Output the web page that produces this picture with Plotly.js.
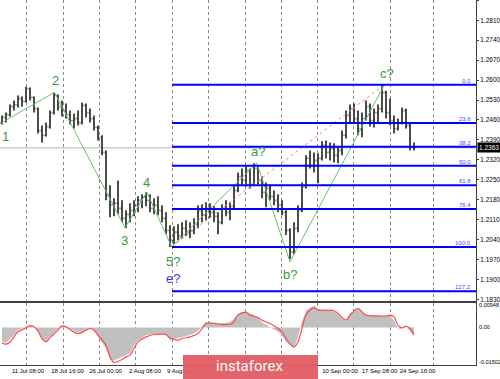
<!DOCTYPE html>
<html><head><meta charset="utf-8">
<script src="https://cdn.plot.ly/plotly-3.0.1.min.js"></script>
<style>html,body{margin:0;padding:0;background:#fff;}#chart{width:500px;height:379px;}</style>
</head><body><div id="chart"></div>
<script>
// ---- price bars (H4 chart, one bar per ~4 px column) ----
const barX = Array.from({length:104}, (_, i) => i);
const openP = [1.2451,1.2469,1.2479,1.2507,1.2514,1.2535,1.2525,1.2570,1.2539,1.2500,
1.2423,1.2406,1.2437,1.2486,1.2546,1.2507,1.2493,1.2479,1.2458,1.2465,
1.2451,1.2511,1.2486,1.2465,1.2434,1.2399,1.2346,1.2196,1.2161,1.2168,
1.2150,1.2115,1.2129,1.2143,1.2161,1.2178,1.2189,1.2178,1.2150,1.2161,
1.2143,1.2115,1.2073,1.2038,1.2066,1.2052,1.2080,1.2066,1.2073,1.2094,
1.2143,1.2126,1.2150,1.2136,1.2122,1.2101,1.2150,1.2136,1.2157,1.2213,
1.2262,1.2248,1.2283,1.2234,1.2290,1.2248,1.2206,1.2220,1.2192,1.2178,
1.2161,1.2136,1.2073,1.1996,1.2080,1.2143,1.2227,1.2325,1.2301,1.2318,
1.2325,1.2371,1.2346,1.2360,1.2336,1.2353,1.2406,1.2476,1.2500,1.2465,
1.2430,1.2465,1.2507,1.2458,1.2486,1.2500,1.2556,1.2486,1.2458,1.2430,
1.2451,1.2493,1.2441,1.2364];
const highP = [1.2476,1.2486,1.2514,1.2528,1.2546,1.2542,1.2577,1.2574,1.2542,1.2504,
1.2441,1.2451,1.2493,1.2556,1.2549,1.2528,1.2518,1.2493,1.2483,1.2493,
1.2521,1.2518,1.2500,1.2476,1.2441,1.2406,1.2353,1.2231,1.2185,1.2248,
1.2178,1.2143,1.2168,1.2178,1.2192,1.2199,1.2206,1.2199,1.2185,1.2192,
1.2161,1.2136,1.2091,1.2087,1.2094,1.2101,1.2108,1.2101,1.2115,1.2161,
1.2164,1.2171,1.2168,1.2157,1.2136,1.2164,1.2178,1.2171,1.2231,1.2276,
1.2290,1.2297,1.2290,1.2308,1.2297,1.2262,1.2241,1.2234,1.2213,1.2199,
1.2178,1.2143,1.2080,1.2101,1.2161,1.2241,1.2336,1.2353,1.2346,1.2343,
1.2385,1.2388,1.2381,1.2378,1.2364,1.2423,1.2493,1.2514,1.2518,1.2493,
1.2486,1.2528,1.2518,1.2500,1.2514,1.2584,1.2563,1.2535,1.2476,1.2465,
1.2504,1.2500,1.2451,1.2381];
const lowP = [1.2444,1.2451,1.2472,1.2493,1.2504,1.2507,1.2521,1.2528,1.2486,1.2413,
1.2381,1.2402,1.2430,1.2479,1.2493,1.2472,1.2465,1.2444,1.2430,1.2441,
1.2444,1.2469,1.2451,1.2423,1.2388,1.2336,1.2178,1.2119,1.2122,1.2129,
1.2101,1.2080,1.2101,1.2122,1.2136,1.2150,1.2157,1.2136,1.2129,1.2126,
1.2101,1.2059,1.2014,1.2024,1.2038,1.2045,1.2052,1.2045,1.2059,1.2080,
1.2101,1.2108,1.2115,1.2101,1.2059,1.2094,1.2122,1.2108,1.2150,1.2206,
1.2234,1.2227,1.2220,1.2231,1.2234,1.2185,1.2154,1.2178,1.2161,1.2136,
1.2126,1.2056,1.1972,1.1989,1.2066,1.2136,1.2220,1.2290,1.2276,1.2238,
1.2318,1.2325,1.2318,1.2311,1.2308,1.2336,1.2395,1.2451,1.2451,1.2406,
1.2399,1.2458,1.2437,1.2434,1.2451,1.2486,1.2465,1.2441,1.2413,1.2423,
1.2444,1.2430,1.2353,1.2353];
const closeP = [1.2469,1.2479,1.2507,1.2514,1.2535,1.2525,1.2570,1.2539,1.2500,1.2423,
1.2406,1.2437,1.2486,1.2546,1.2507,1.2493,1.2479,1.2458,1.2465,1.2451,
1.2511,1.2486,1.2465,1.2434,1.2399,1.2346,1.2196,1.2161,1.2168,1.2150,
1.2115,1.2129,1.2143,1.2161,1.2178,1.2189,1.2178,1.2150,1.2161,1.2143,
1.2115,1.2073,1.2038,1.2066,1.2052,1.2080,1.2066,1.2073,1.2094,1.2143,
1.2126,1.2150,1.2136,1.2122,1.2101,1.2150,1.2136,1.2157,1.2213,1.2262,
1.2248,1.2283,1.2234,1.2290,1.2248,1.2206,1.2220,1.2192,1.2178,1.2161,
1.2136,1.2073,1.1996,1.2080,1.2143,1.2227,1.2325,1.2301,1.2318,1.2325,
1.2371,1.2346,1.2360,1.2336,1.2353,1.2406,1.2476,1.2500,1.2465,1.2430,
1.2465,1.2507,1.2458,1.2486,1.2500,1.2556,1.2486,1.2458,1.2430,1.2451,
1.2493,1.2441,1.2364,1.2363];
const lastPrice = 1.2363;

// ---- Elliott wave marks ----
const waveNames = ['1','2','3','4','5?','a?','b?','c?'];
const waveX = [-0.5, 13.1, 30.75, 36.2, 42.4, 63.7, 72, 95.6];
const waveP = [1.2447, 1.2557, 1.2082, 1.2207, 1.2015, 1.2309, 1.1962, 1.2584];
const labelX = [-0.5, 13.4, 30.5, 36.1, 42.75, 64.1, 72, 96.3];
const labelP = [1.2402, 1.2598, 1.2038, 1.2239, 1.1964, 1.2350, 1.1919, 1.2622];
const altLabel = {text:'e?', x:42.75, p:1.1903};
const trendX = [42.4, 95.6];
const trendP = [1.2015, 1.2584];

// ---- Fibonacci retracement ----
const fibNames = ['0.0','23.6','38.2','50.0','61.8','76.4','100.0','127.2'];
const fibPrices = [1.2584, 1.2449, 1.2366, 1.2299, 1.2231, 1.2148, 1.2014, 1.1859];
const fibStartX = 42.5;

// ---- axes ----
const priceTicks = [1.2880,1.2810,1.2740,1.2670,1.2600,1.2530,1.2460,1.2390,1.2320,1.2250,1.2180,1.2110,1.2040,1.1970,1.1900,1.1830];
const gridX = [6, 15.25, 24.25, 33.25, 42.5, 51.5, 60.75, 69.75, 78.75, 87.75, 97, 107.75];
const dateX = [6.5, 16.375, 25.875, 35.75, 45.25, 84.5, 94.375, 103.875];
const dateLabels = ['11 Jul 08:00','18 Jul 16:00','26 Jul 00:00','2 Aug 08:00','9 Aug 16:00','10 Sep 00:00','17 Sep 08:00','24 Sep 16:00'];
const xRange = [-0.5, 118.5];

// ---- oscillator (MACD histogram + signal) ----
const oscX = [0,1,2,3,4,6,7,8,9,10, 11,12,14,15,16,17,19,21,22,23, 24,26,27,28,30,31,32,33,34,36,
38,40,41,42,44,45,47,49,50,51, 53,55,57,58,59,61,62,64,65,67, 69,70,71,73,74,75,76,78,79,81,
83,84,86,87,89,90,91,93,94,96, 97,98,99,100,101,102,103];
const macdHist = [-0.00578,-0.00654,-0.00491,-0.00327,-0.00109,0.00044,0.00098,0.00033,-0.00196,-0.00491,
-0.00600,-0.00382,-0.00055,0.00098,0.00055,-0.00065,-0.00218,-0.00065,-0.00022,-0.00131,
-0.00403,-0.00905,-0.01352,-0.01417,-0.01264,-0.01199,-0.01112,-0.00763,-0.00545,-0.00327,
-0.00283,-0.00283,-0.00327,-0.00545,-0.00469,-0.00403,-0.00327,-0.00164,0.00055,0.00240,
0.00218,0.00174,0.00240,0.00382,0.00600,0.00709,0.00600,0.00436,0.00218,0.00033,
-0.00185,-0.00327,-0.00621,-0.00894,-0.00403,0.00240,0.00730,0.00948,0.00785,0.00752,
0.00687,0.00545,0.00240,0.00600,0.00828,0.00676,0.00501,0.00501,0.00501,0.00458,
0.00501,0.00316,-0.00044,-0.00044,0.00044,-0.00153,-0.00403];
const macdSignal = [-0.00661,-0.00719,-0.00621,-0.00403,-0.00185,-0.00014,0.00086,0.00028,-0.00158,-0.00474,
-0.00617,-0.00445,-0.00114,0.00072,0.00028,-0.00086,-0.00258,-0.00114,-0.00044,-0.00114,
-0.00330,-0.00761,-0.01264,-0.01502,-0.01373,-0.01264,-0.01188,-0.00905,-0.00617,-0.00402,
-0.00302,-0.00287,-0.00302,-0.00445,-0.00545,-0.00474,-0.00402,-0.00258,-0.00044,0.00172,
0.00172,0.00130,0.00130,0.00244,0.00531,0.00646,0.00531,0.00431,0.00316,0.00172,
-0.00044,-0.00186,-0.00474,-0.00833,-0.00617,-0.00044,0.00531,0.00847,0.00747,0.00747,
0.00718,0.00603,0.00316,0.00531,0.00818,0.00675,0.00531,0.00502,0.00502,0.00488,
0.00531,0.00459,0.00100,-0.00014,0.00058,-0.00044,-0.00302];

const FONT = 'Liberation Sans, Arial, sans-serif';
const traces = [
  {type:'ohlc', x:barX, open:openP, high:highP, low:lowP, close:closeP,
   xaxis:'x', yaxis:'y', tickwidth:0.35,
   increasing:{line:{color:'#3a3a3a', width:1.8}}, decreasing:{line:{color:'#3a3a3a', width:1.8}},
   hoverinfo:'skip'},
  {type:'scatter', mode:'lines', x:trendX, y:trendP, xaxis:'x', yaxis:'y',
   line:{color:'#ff8080', width:1, dash:'dot'}, hoverinfo:'skip'},
  {type:'scatter', mode:'lines', x:waveX, y:waveP, xaxis:'x', yaxis:'y',
   line:{color:'#6cc06c', width:1}, hoverinfo:'skip'}
];
fibPrices.forEach(p => traces.push({type:'scatter', mode:'lines', x:[fibStartX, xRange[1]], y:[p,p],
  xaxis:'x', yaxis:'y', line:{color:'#0000ff', width:2}, hoverinfo:'skip'}));
traces.push({type:'scatter', mode:'lines', x:oscX, y:macdHist, xaxis:'x2', yaxis:'y2',
  fill:'tozeroy', fillcolor:'#c0c0c0', line:{width:0, color:'#c0c0c0'}, hoverinfo:'skip'});
traces.push({type:'scatter', mode:'lines', x:oscX, y:macdSignal, xaxis:'x3', yaxis:'y2',
  line:{color:'#ff4a4a', width:1.2, shape:'spline'}, hoverinfo:'skip'});

const annotations = [];
waveNames.forEach((t,i) => annotations.push({xref:'x', yref:'y', x:labelX[i], y:labelP[i], text:t,
  showarrow:false, xanchor: i===0 ? 'left':'center', yanchor:'middle',
  font:{family:FONT, size:13, color:'#3a9a3a'}}));
annotations.push({xref:'x', yref:'y', x:altLabel.x, y:altLabel.p, text:altLabel.text, showarrow:false,
  xanchor:'center', yanchor:'middle', font:{family:FONT, size:13, color:'#3a3ae6'}});
fibNames.forEach((t,i) => annotations.push({xref:'paper', yref:'y', x:0.992, y:fibPrices[i], text:t,
  showarrow:false, xanchor:'right', yanchor:'bottom', borderpad:0,
  font:{family:FONT, size:6, color:'#4848ff'}}));
annotations.push({xref:'paper', yref:'y', x:1, y:lastPrice, text:lastPrice.toFixed(4), showarrow:false,
  xanchor:'left', yanchor:'middle', bgcolor:'#000', borderpad:1, xshift:1,
  font:{family:FONT, size:6.5, color:'#fff'}});
annotations.push({xref:'paper', yref:'paper', x:0.525, y:-0.004, text:'instaforex', showarrow:false,
  xanchor:'center', yanchor:'middle', font:{family:'Roboto, sans-serif', size:15, color:'#fff'}});

const gridStyle = {showgrid:true, gridcolor:'#8a8a8a', griddash:'dot', gridwidth:1};
const layout = {
  width:500, height:379,
  margin:{l:0, r:24, t:0, b:14, pad:0},
  paper_bgcolor:'#fff', plot_bgcolor:'#fff',
  showlegend:false,
  font:{family:FONT, size:6.5, color:'#000'},
  xaxis:Object.assign({domain:[0,1], anchor:'y', range:xRange, tickvals:gridX, showticklabels:false, ticks:'',
    zeroline:false, showline:true, linecolor:'#404040', linewidth:1, rangeslider:{visible:false}}, gridStyle),
  xaxis2:Object.assign({domain:[0,1], anchor:'y2', range:xRange, tickvals:gridX, showticklabels:false, ticks:'',
    zeroline:false, showline:true, mirror:true, linecolor:'#404040', linewidth:1}, gridStyle),
  xaxis3:{overlaying:'x2', anchor:'y2', range:xRange, tickvals:dateX, ticktext:dateLabels, tickangle:0,
    showgrid:false, zeroline:false, showline:false, ticks:'', ticklabelstandoff:1,
    tickfont:{family:FONT, size:6, color:'#000'}},
  yaxis:{domain:[0.1753,1], anchor:'x', side:'right', range:[1.18248,1.2881], tickvals:priceTicks,
    tickformat:'.4f', showgrid:false, zeroline:false, showline:true, linecolor:'#404040', linewidth:1,
    ticks:'outside', ticklen:2, tickcolor:'#404040', tickfont:{family:FONT, size:6.5, color:'#000'}},
  yaxis2:{domain:[0,0.1699], anchor:'x2', side:'right', range:[-0.01613,0.01054],
    tickvals:[0.00948,0,-0.01502], ticktext:['0.00948','0.00','-0.01502'],
    showgrid:false, zeroline:false, showline:true, linecolor:'#404040', linewidth:1,
    ticks:'', ticklabelstandoff:1, tickfont:{family:FONT, size:5.5, color:'#000'}},
  shapes:[
    {type:'line', xref:'paper', yref:'y', x0:0, x1:1, y0:lastPrice, y1:lastPrice,
     line:{color:'#cfcfcf', width:1.5}, layer:'below'},
    {type:'rect', xref:'paper', yref:'paper', x0:183/476, x1:318/476, y0:-14/365, y1:10/365,
     fillcolor:'rgba(224,92,98,0.95)', line:{width:0}, layer:'above'}
  ],
  annotations:annotations
};
Plotly.newPlot('chart', traces, layout, {displayModeBar:false, staticPlot:true});
</script>
</body></html>
